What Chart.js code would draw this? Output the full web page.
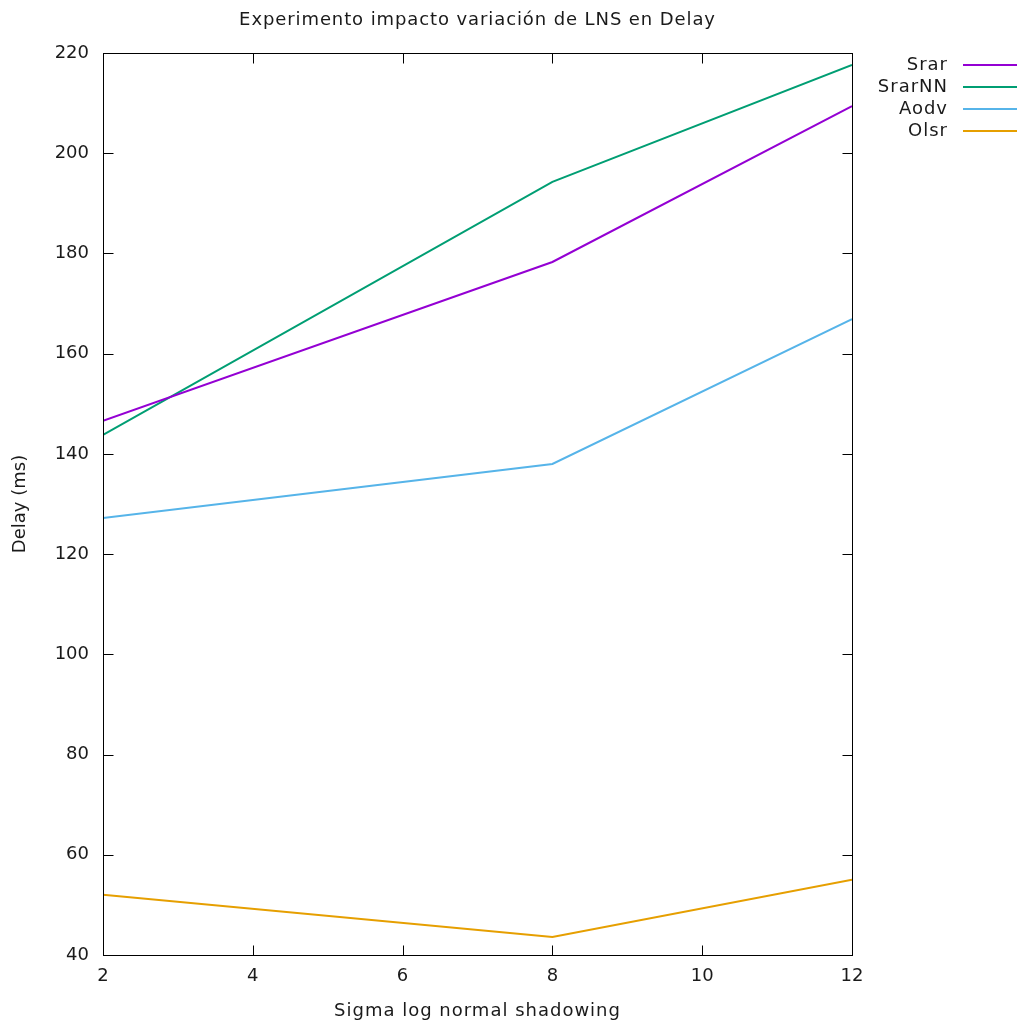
<!DOCTYPE html>
<html>
<head>
<meta charset="utf-8">
<script src="https://cdn.jsdelivr.net/npm/chart.js@4"></script>
<style>
  body { margin: 0; background: #fff; }
  #chart { display: block; }
</style>
</head>
<body>
<canvas id="chart" width="1017" height="1023"></canvas>
<script>
const sigma = [2, 8, 12];
const srar = [146.6, 178.3, 209.4];
const srarNN = [143.8, 194.3, 217.6];
const aodv = [127.2, 138.0, 166.9];
const olsr = [52.0, 43.6, 55.0];
const xTicks = [2, 4, 6, 8, 10, 12];
const yTicks = [40, 60, 80, 100, 120, 140, 160, 180, 200, 220];

const series = [
  { label: 'Srar', values: srar, color: '#9400d3' },
  { label: 'SrarNN', values: srarNN, color: '#009e73' },
  { label: 'Aodv', values: aodv, color: '#56b4e9' },
  { label: 'Olsr', values: olsr, color: '#e69f00' }
];

const FONT = 'DejaVu Sans';
const TEXT = '#1a1a1a';

// gnuplot-like frame: border box, inward ticks on all four sides, titles and key
const gnuplotFrame = {
  id: 'gnuplotFrame',
  afterDatasetsDraw(chart) {
    const { ctx, chartArea: a, scales: { x, y } } = chart;
    const tick = 10;
    const L = Math.round(a.left) + 0.5, R = Math.round(a.right) + 0.5;
    const T = Math.round(a.top) + 0.5, B = Math.round(a.bottom) + 0.5;
    ctx.save();
    ctx.strokeStyle = '#000';
    ctx.lineWidth = 1;
    ctx.strokeRect(L, T, R - L, B - T);
    ctx.beginPath();
    xTicks.forEach(v => {
      const px = Math.round(x.getPixelForValue(v)) + 0.5;
      ctx.moveTo(px, B); ctx.lineTo(px, B - tick);
      ctx.moveTo(px, T); ctx.lineTo(px, T + tick);
    });
    yTicks.forEach(v => {
      const py = Math.round(y.getPixelForValue(v)) + 0.5;
      ctx.moveTo(L, py); ctx.lineTo(L + tick, py);
      ctx.moveTo(R, py); ctx.lineTo(R - tick, py);
    });
    ctx.stroke();

    ctx.fillStyle = TEXT;
    ctx.font = '18px "' + FONT + '"';
    ctx.textBaseline = 'middle';
    ctx.textAlign = 'center';
    const cx = (a.left + a.right) / 2;

    // y axis title, rotated
    ctx.save();
    ctx.translate(20, (a.top + a.bottom) / 2);
    ctx.rotate(-Math.PI / 2);
    ctx.fillText('Delay (ms)', 0, 0);
    ctx.restore();

    ctx.letterSpacing = '0.9px';
    ctx.fillText('Experimento impacto variación de LNS en Delay', cx, 20);
    ctx.letterSpacing = '1px';
    ctx.fillText('Sigma log normal shadowing', cx, 1011);

    // key
    ctx.textAlign = 'right';
    series.forEach((s, i) => {
      const ky = 65 + i * 22;
      ctx.fillStyle = TEXT;
      ctx.fillText(s.label, 948, ky);
      ctx.strokeStyle = s.color;
      ctx.lineWidth = 2;
      ctx.beginPath();
      ctx.moveTo(963, ky);
      ctx.lineTo(1017, ky);
      ctx.stroke();
    });
    ctx.restore();
  }
};

new Chart(document.getElementById('chart'), {
  type: 'line',
  data: {
    datasets: series.map(s => ({
      label: s.label,
      data: sigma.map((v, i) => ({ x: v, y: s.values[i] })),
      borderColor: s.color,
      backgroundColor: s.color,
      borderWidth: 2,
      pointRadius: 0,
      tension: 0,
      fill: false
    }))
  },
  options: {
    responsive: false,
    animation: false,
    layout: { padding: { left: 0, right: 165, top: 53, bottom: 0 } },
    plugins: {
      legend: { display: false },
      title: { display: false },
      tooltip: { enabled: false }
    },
    scales: {
      x: {
        type: 'linear',
        min: 2,
        max: 12,
        afterFit: s => { s.height = 68; },
        afterBuildTicks: s => { s.ticks = xTicks.map(v => ({ value: v })); },
        grid: { display: false },
        border: { display: false },
        ticks: { color: TEXT, padding: 3, maxRotation: 0, font: { family: FONT, size: 18 } }
      },
      y: {
        min: 40,
        max: 220,
        afterFit: s => { s.width = 103; },
        afterBuildTicks: s => { s.ticks = yTicks.map(v => ({ value: v })); },
        grid: { display: false },
        border: { display: false },
        ticks: { color: TEXT, padding: 6, font: { family: FONT, size: 18 } }
      }
    }
  },
  plugins: [gnuplotFrame]
});
</script>
</body>
</html>
